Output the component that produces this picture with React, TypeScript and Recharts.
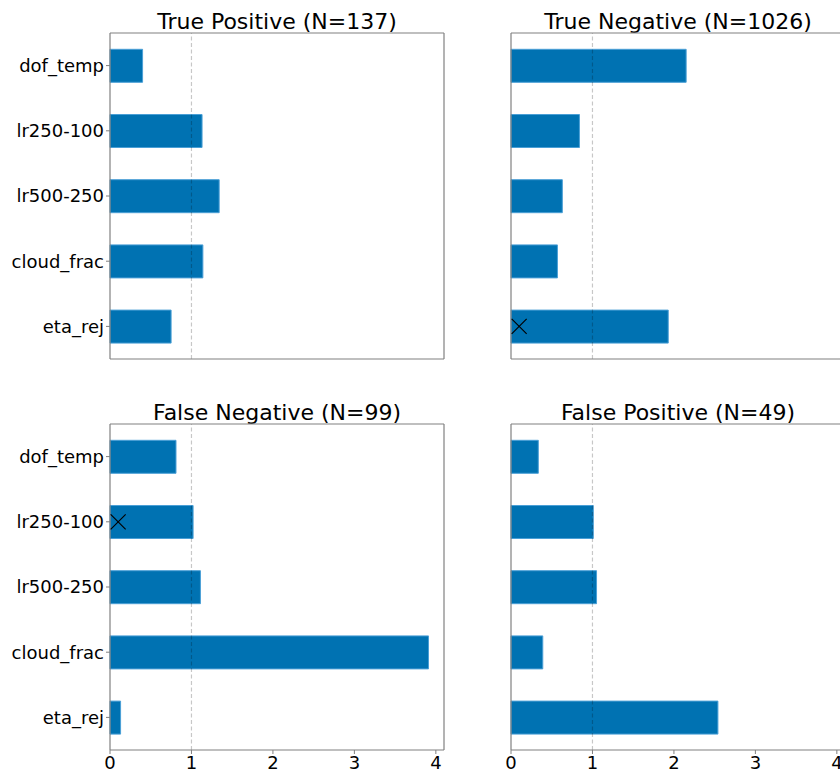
import React from 'react';
import { ComposedChart, Bar, XAxis, YAxis, ReferenceLine, ReferenceDot } from 'recharts';

const features = ['dof_temp', 'lr250-100', 'lr500-250', 'cloud_frac', 'eta_rej'];

const truePositive = [0.4, 1.13, 1.34, 1.14, 0.75];
const trueNegative = [2.15, 0.84, 0.63, 0.57, 1.93];
const falseNegative = [0.81, 1.02, 1.11, 3.91, 0.13];
const falsePositive = [0.335, 1.01, 1.05, 0.39, 2.54];

const xTicks = [0, 1, 2, 3, 4];
const xMax = 4.1;

// flagged features get an "x" drawn near zero
const markerValue = 0.1;

const FONT = '"DejaVu Sans", sans-serif';
const BAR = '#0072B2';
const SPINE = '#808080';

const tickStyle = { fontSize: 18, fill: '#000', fontFamily: FONT };

function Cross(props: any) {
  const { cx, cy } = props;
  const s = 7.5;
  return (
    <g stroke="#000" strokeWidth={1.1}>
      <line x1={cx - s} y1={cy - s} x2={cx + s} y2={cy + s} />
      <line x1={cx - s} y1={cy + s} x2={cx + s} y2={cy - s} />
    </g>
  );
}

function Panel({
  title,
  values,
  left,
  top,
  showY,
  showX,
  flagged,
}: {
  title: string;
  values: number[];
  left: number;
  top: number;
  showY: boolean;
  showX: boolean;
  flagged?: string;
}) {
  const data = features.map((name, i) => ({ name, value: values[i] }));
  return (
    <div style={{ position: 'absolute', left, top }}>
      <div
        style={{
          position: 'absolute',
          left: 110,
          top: 11,
          width: 334,
          textAlign: 'center',
          fontFamily: FONT,
          fontSize: 22,
          lineHeight: '22px',
          whiteSpace: 'nowrap',
          color: '#000',
        }}
      >
        {title}
      </div>
      <ComposedChart
        width={454}
        height={389}
        data={data}
        layout="vertical"
        margin={{ top: 32, right: 9, bottom: 0, left: 0 }}
        barCategoryGap="25%"
      >
        <XAxis
          type="number"
          domain={[0, xMax]}
          ticks={xTicks}
          height={30}
          tick={showX ? tickStyle : false}
          tickSize={4}
          tickMargin={2}
          axisLine={{ stroke: SPINE, strokeWidth: 1.2 }}
          tickLine={{ stroke: SPINE }}
        />
        <XAxis
          xAxisId="top"
          orientation="top"
          type="number"
          domain={[0, xMax]}
          height={1}
          tick={false}
          tickLine={false}
          axisLine={{ stroke: SPINE, strokeWidth: 1.2 }}
        />
        <YAxis
          type="category"
          dataKey="name"
          width={110}
          interval={0}
          tick={showY ? tickStyle : false}
          tickSize={4}
          tickMargin={2}
          axisLine={{ stroke: SPINE, strokeWidth: 1.2 }}
          tickLine={{ stroke: SPINE }}
        />
        <YAxis
          yAxisId="right"
          orientation="right"
          type="category"
          dataKey="name"
          width={1}
          tick={false}
          tickLine={false}
          axisLine={{ stroke: SPINE, strokeWidth: 1.2 }}
        />
        <Bar dataKey="value" fill={BAR} stroke="#4a9fd6" strokeWidth={1} isAnimationActive={false} />
        <ReferenceLine
          x={1}
          stroke="#000"
          strokeOpacity={0.22}
          strokeWidth={1.2}
          strokeDasharray="4 2.5"
        />
        {flagged && <ReferenceDot x={markerValue} y={flagged} r={8} shape={Cross} />}
      </ComposedChart>
    </div>
  );
}

export default function App() {
  return (
    <div
      style={{
        position: 'absolute',
        left: 0,
        top: 0,
        width: 840,
        height: 772,
        overflow: 'hidden',
        background: '#fff',
      }}
    >
      <Panel title="True Positive (N=137)" values={truePositive} left={0} top={0} showY showX={false} />
      <Panel
        title="True Negative (N=1026)"
        values={trueNegative}
        left={401}
        top={0}
        showY={false}
        showX={false}
        flagged="eta_rej"
      />
      <Panel
        title="False Negative (N=99)"
        values={falseNegative}
        left={0}
        top={391}
        showY
        showX
        flagged="lr250-100"
      />
      <Panel title="False Positive (N=49)" values={falsePositive} left={401} top={391} showY={false} showX />
    </div>
  );
}
